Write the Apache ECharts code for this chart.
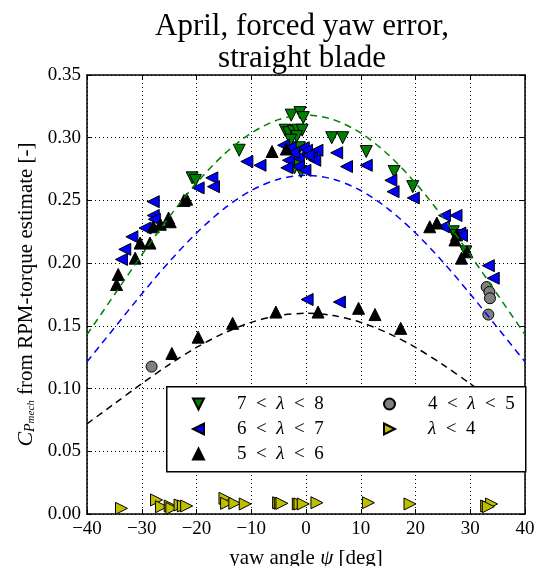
<!DOCTYPE html>
<html>
<head>
<meta charset="utf-8">
<script src="https://cdn.jsdelivr.net/npm/echarts@6/dist/echarts.min.js"></script>
<style>
  html, body { margin: 0; background: #fff; }
  #chart { width: 539px; height: 566px; }
</style>
</head>
<body>
<div id="chart"></div>
<script>
// yaw angle grid for the model curves (deg)
const curveX = [-40, -35, -30, -25, -20, -15, -10, -5, 0, 5, 10, 15, 20, 25, 30, 35, 40]
const curveGreen = [0.143, 0.1748, 0.2065, 0.2367, 0.2639, 0.2866, 0.3037, 0.3144, 0.318, 0.3144, 0.3037, 0.2866, 0.2639, 0.2367, 0.2065, 0.1748, 0.143]
const curveBlue = [0.1214, 0.1484, 0.1754, 0.201, 0.224, 0.2433, 0.2579, 0.2669, 0.27, 0.2669, 0.2579, 0.2433, 0.224, 0.201, 0.1754, 0.1484, 0.1214]
const curveBlack = [0.0719, 0.0879, 0.1039, 0.1191, 0.1328, 0.1442, 0.1528, 0.1582, 0.16, 0.1582, 0.1528, 0.1442, 0.1328, 0.1191, 0.1039, 0.0879, 0.0719]

// measured points [yaw deg, Cp]
const lam78 = [
  [-20.8, 0.268], [-20.2, 0.266], [-12.2, 0.290],
  [-2.7, 0.318], [-1.1, 0.320], [-0.5, 0.316],
  [-3.8, 0.306], [-3.2, 0.304], [-2.3, 0.305], [-1.5, 0.306], [-0.7, 0.306], [-1.7, 0.301], [-2.8, 0.298],
  [-2.0, 0.288], [-1.2, 0.292], [-2.1, 0.276], [-0.9, 0.273], [-1.5, 0.279],
  [4.7, 0.300], [6.7, 0.300], [11.0, 0.289], [16.1, 0.273], [19.5, 0.261],
  [26.9, 0.225], [27.4, 0.222], [29.2, 0.209]
]
const lam67 = [
  [-27.9, 0.249], [-27.9, 0.238], [-27.7, 0.235], [-29.4, 0.228], [-31.8, 0.221], [-33.1, 0.211], [-33.7, 0.203],
  [-19.7, 0.260], [-17.2, 0.268], [-16.9, 0.261], [-10.8, 0.281], [-8.4, 0.278],
  [-4.1, 0.294], [-2.9, 0.292], [-0.5, 0.292], [0.1, 0.290], [2.0, 0.290], [-3.2, 0.282], [-1.4, 0.284],
  [1.0, 0.284], [1.6, 0.282], [-2.3, 0.288], [0.4, 0.286], [-3.5, 0.276], [-1.4, 0.277], [-0.2, 0.274],
  [5.6, 0.288], [7.4, 0.277], [11.0, 0.278], [15.5, 0.266], [15.9, 0.257], [19.6, 0.252],
  [25.3, 0.238], [27.4, 0.238], [25.1, 0.229], [28.1, 0.224], [28.4, 0.222],
  [33.3, 0.198], [34.2, 0.188], [0.2, 0.171], [6.1, 0.169]
]
const lam56 = [
  [-34.3, 0.191], [-34.6, 0.183], [-31.2, 0.204], [-30.3, 0.216], [-28.5, 0.216], [-27.9, 0.229],
  [-26.6, 0.231], [-25.1, 0.236], [-24.8, 0.233], [-22.3, 0.250], [-21.8, 0.251],
  [-6.2, 0.289], [-3.6, 0.291],
  [-24.5, 0.128], [-19.7, 0.141], [-13.4, 0.152], [-5.5, 0.161], [2.2, 0.161], [9.6, 0.164], [12.6, 0.159], [17.3, 0.148],
  [22.6, 0.229], [23.9, 0.232], [27.2, 0.2185], [27.5, 0.2225], [28.4, 0.204], [29.4, 0.209]
]
const lam45 = [[-28.2, 0.1175], [33.0, 0.181], [33.5, 0.177], [33.6, 0.172], [33.3, 0.159]]
const lam4 = [
  [-33.7, 0.0045], [-27.3, 0.0112], [-26.4, 0.0058], [-24.8, 0.0064], [-24.5, 0.0045], [-23.0, 0.0072], [-22.4, 0.0064], [-21.8, 0.0064],
  [-14.8, 0.0125], [-14.5, 0.0085], [-13.0, 0.0085], [-11.1, 0.008],
  [-5.0, 0.009], [-4.7, 0.0085], [-4.4, 0.0085], [-1.4, 0.008], [-1.1, 0.008], [-0.5, 0.008], [2.0, 0.009],
  [11.4, 0.009], [19.0, 0.008], [33.0, 0.0064], [33.9, 0.008], [33.3, 0.0058]
]

const SERIF = 'Liberation Serif'
const fmtX = (v) => (v < 0 ? '\u2212' + Math.abs(v) : String(v))

// triangle icons for the legend (keep aspect, point in the marker's direction)
const ICON_DOWN = 'path://M0,0 L10,0 L5,10 Z'
const ICON_LEFT = 'path://M10,0 L10,10 L0,5 Z'
const ICON_UP = 'path://M5,0 L10,10 L0,10 Z'
const ICON_RIGHT = 'path://M0,0 L10,5 L0,10 Z'

function scatter(name, data, color, rot) {
  return {
    name, type: 'scatter', data, symbol: 'triangle', symbolSize: 12, symbolRotate: rot,
    itemStyle: { color, borderColor: '#000', borderWidth: 1, opacity: 1 },
    emphasis: { disabled: true }, z: 3
  }
}
function curve(vals, color) {
  return {
    type: 'line', data: curveX.map((x, i) => [x, vals[i]]), smooth: 0.3, symbol: 'none',
    lineStyle: { color, width: 1.5, type: [7, 5] }, silent: true, z: 4
  }
}

const legendText = {
  fontFamily: SERIF, fontSize: 19, color: '#000', lineHeight: 20, padding: [0, 0, 0, 28],
  rich: {
    n: { fontFamily: SERIF, fontSize: 19, color: '#000' },
    i: { fontFamily: SERIF, fontSize: 19, fontStyle: 'italic', color: '#000' }
  }
}
const legendFmt = (name) => '{n|' + name.replace(/ /g, '\u2002').replace('λ', '}{i|λ}{n|') + '}'
const legendBase = {
  orient: 'vertical', top: 394, itemWidth: 11, itemHeight: 11, itemGap: 5, padding: 0, z: 60,
  selectedMode: false, textStyle: legendText, formatter: legendFmt
}

const axisCommon = {
  axisLine: { show: true, onZero: false, lineStyle: { color: '#000', width: 1.5 } },
  axisTick: { show: true, inside: true, length: 5, lineStyle: { color: '#000' } },
  splitLine: { show: false }
}

const chart = echarts.init(document.getElementById('chart'))
chart.setOption({
  animation: false,
  title: {
    text: 'April, forced yaw error,\nstraight blade',
    left: 297, top: 6, textAlign: 'center',
    textStyle: { fontFamily: SERIF, fontSize: 31, fontWeight: 'normal', color: '#000', lineHeight: 32 }
  },
  grid: { left: 87, right: 14, top: 75, bottom: 52, containLabel: false, outerBoundsMode: 'none' },
  xAxis: [
    {
      ...axisCommon, type: 'value', min: -40, max: 40, interval: 10, position: 'bottom',
      axisLabel: { fontFamily: SERIF, fontSize: 19, color: '#000', margin: 6, formatter: fmtX },
      splitLine: { show: true, lineStyle: { color: '#000', width: 1, type: [1, 3] } },
      name: '{n|yaw angle }{i|ψ}{n| [deg]}', nameLocation: 'middle', nameGap: 34,
      nameTextStyle: {
        rich: {
          n: { fontFamily: SERIF, fontSize: 21, color: '#000' },
          i: { fontFamily: SERIF, fontSize: 21, fontStyle: 'italic', color: '#000' }
        }
      }
    },
    { ...axisCommon, type: 'value', min: -40, max: 40, interval: 10, position: 'top', axisLabel: { show: false } }
  ],
  yAxis: [
    {
      ...axisCommon, type: 'value', min: 0, max: 0.35, interval: 0.05, position: 'left',
      axisLabel: { fontFamily: SERIF, fontSize: 19, color: '#000', margin: 6, formatter: (v) => v.toFixed(2) },
      splitLine: { show: true, lineStyle: { color: '#000', width: 1, type: [1, 3] } },
      name: '{c|C}{p|P}{m|mech}{t| from RPM-torque estimate [-]}',
      nameLocation: 'middle', nameGap: 47, nameRotate: 90,
      nameTextStyle: {
        rich: {
          c: { fontFamily: SERIF, fontSize: 22, fontStyle: 'italic', color: '#000', verticalAlign: 'bottom', lineHeight: 27 },
          p: { fontFamily: SERIF, fontSize: 14, fontStyle: 'italic', color: '#000', verticalAlign: 'bottom', lineHeight: 15 },
          m: { fontFamily: SERIF, fontSize: 11, fontStyle: 'italic', color: '#000', verticalAlign: 'bottom', lineHeight: 9 },
          t: { fontFamily: SERIF, fontSize: 21, color: '#000', verticalAlign: 'bottom', lineHeight: 25 }
        }
      }
    },
    { ...axisCommon, type: 'value', min: 0, max: 0.35, interval: 0.05, position: 'right', axisLabel: { show: false } }
  ],
  graphic: {
    elements: [{
      type: 'rect', left: 166, top: 386, z: 50,
      shape: { width: 359, height: 85 },
      style: { fill: '#fff', stroke: '#000', lineWidth: 1.5 }
    }]
  },
  legend: [
    {
      ...legendBase, left: 192,
      data: [
        { name: '7 < λ < 8', icon: ICON_DOWN },
        { name: '6 < λ < 7', icon: ICON_LEFT },
        { name: '5 < λ < 6', icon: ICON_UP }
      ]
    },
    {
      ...legendBase, left: 383,
      data: [
        { name: '4 < λ < 5', icon: 'circle' },
        { name: 'λ < 4', icon: ICON_RIGHT }
      ]
    }
  ],
  series: [
    scatter('7 < λ < 8', lam78, '#008000', 180),
    scatter('6 < λ < 7', lam67, '#0000ff', 90),
    scatter('5 < λ < 6', lam56, '#000000', 0),
    { ...scatter('4 < λ < 5', lam45, '#808080', 0), symbol: 'circle', symbolSize: 11 },
    scatter('λ < 4', lam4, '#bfbf00', -90),
    curve(curveGreen, '#008000'),
    curve(curveBlue, '#0000ff'),
    curve(curveBlack, '#000000')
  ]
})
</script>
</body>
</html>
